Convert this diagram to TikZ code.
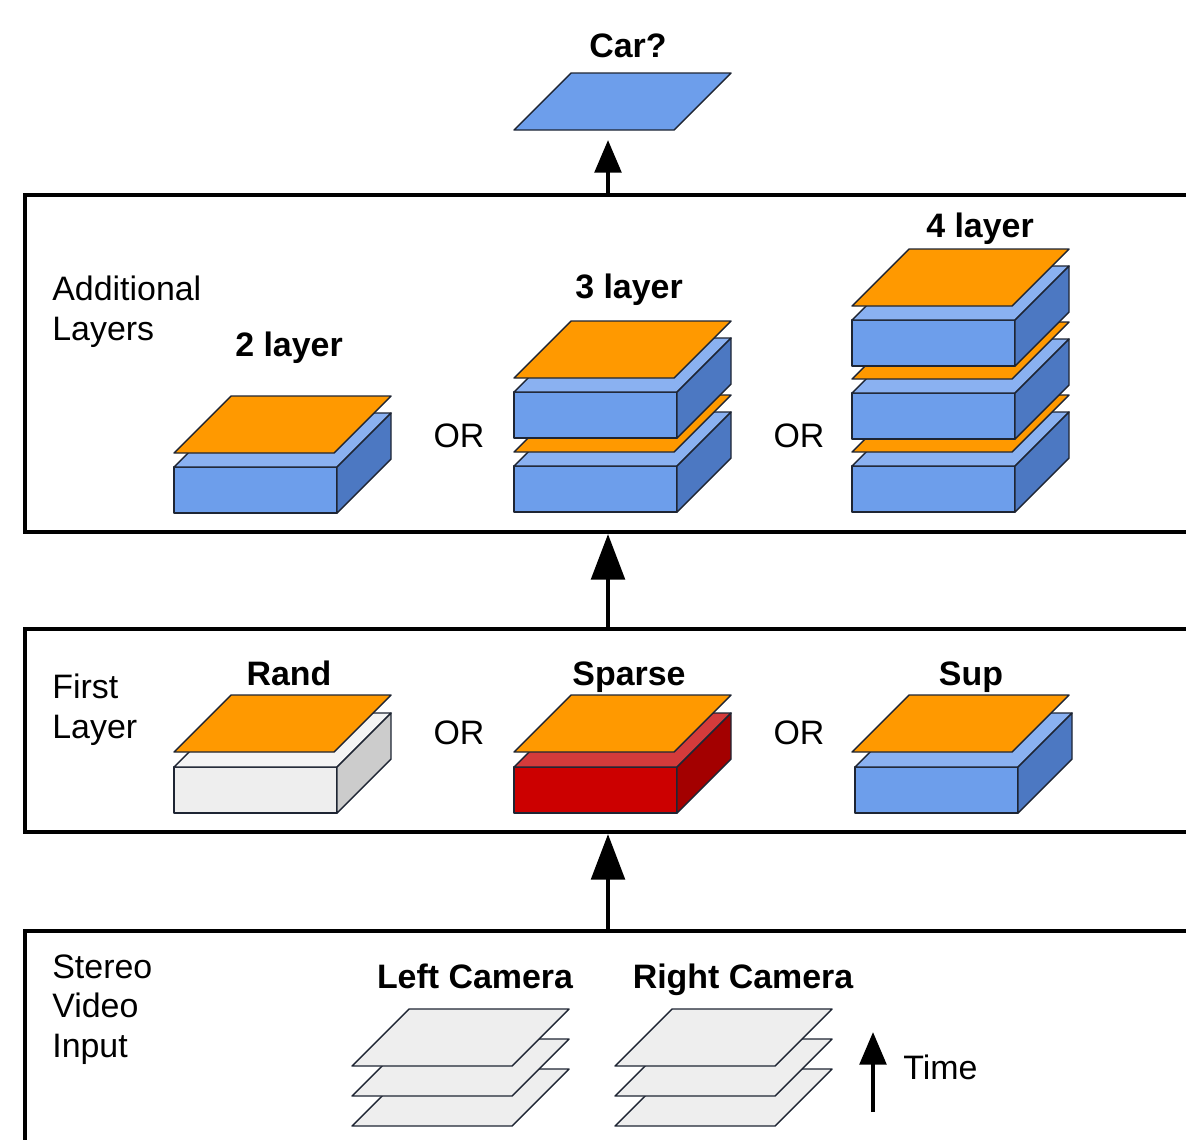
\documentclass[tikz,border=0pt]{standalone}
\usepackage{fontspec}
\setmainfont{Liberation Sans}
\usepackage{xcolor}
\usetikzlibrary{arrows.meta}

\definecolor{sheetorange}{HTML}{FF9900}
\definecolor{bluefront}{HTML}{6D9EEB}
\definecolor{bluetop}{HTML}{8AB1F1}
\definecolor{blueside}{HTML}{4C78C2}
\definecolor{redfront}{HTML}{CC0000}
\definecolor{redtop}{HTML}{D43B3B}
\definecolor{redside}{HTML}{A30000}
\definecolor{grayfront}{HTML}{EEEEEE}
\definecolor{graytop}{HTML}{F4F4F4}
\definecolor{grayside}{HTML}{CCCCCC}
\definecolor{edgeline}{HTML}{1E2533}

\newcommand{\layerblock}[5]{%
  \filldraw[edge, fill=#3] (#1,#2) rectangle ({#1+163},{#2-46});
  \filldraw[edge, fill=#4] (#1,{#2-46}) -- ({#1+163},{#2-46}) -- ({#1+217},{#2-100}) -- ({#1+54},{#2-100}) -- cycle;
  \filldraw[edge, fill=#5] ({#1+163},#2) -- ({#1+217},{#2-54}) -- ({#1+217},{#2-100}) -- ({#1+163},{#2-46}) -- cycle;
}
\newcommand{\layersheet}[3]{%
  \filldraw[edge, fill=#3] (#1,#2) -- ({#1+160},#2) -- ({#1+217},{#2-57}) -- ({#1+57},{#2-57}) -- cycle;
}

\begin{document}
\begin{tikzpicture}[
      x=0.02cm, y=-0.02cm,
      edge/.style={draw=edgeline, line width=0.8pt, line join=round},
      panel/.style={draw, line width=2.3pt, minimum width=23.32cm, inner sep=0pt},
      lbl/.style={font=\fontsize{19.3}{22.7}\selectfont, inner sep=0pt},
      head/.style={font=\fontsize{19.3}{22.7}\selectfont\bfseries, inner sep=0pt},
      bigarrow/.style={-{Triangle[length=26pt, width=19pt]}, line width=2.6pt},
      smallarrow/.style={-{Triangle[length=18.5pt, width=15pt]}, line width=2.4pt}
    ]
    \useasboundingbox (0,0) rectangle (1186,1139);
    \clip (0,0) rectangle (1186,1139);

    \node[panel, minimum height=6.74cm] (addbox) at (608,363.5) {};
    \node[panel, minimum height=4.06cm] (firstbox) at (608,730.5) {};
    \node[panel, minimum height=4.38cm] (inbox) at (608,1040.5) {};

    % output
    \layersheet{514}{130}{bluefront}
    \node[head, anchor=base] (carlbl) at (628,57) {Car?};
    \coordinate (carbase) at (608,140);

    % additional layers
    \node[lbl, anchor=north west, align=left] (addlbl) at (52,276) {Additional\\Layers};
    \node[head, anchor=base] (twolbl) at (289,356) {2 layer};
    \node[head, anchor=base] (threelbl) at (629,298) {3 layer};
    \node[head, anchor=base] (fourlbl) at (980,237) {4 layer};
    \node[lbl, anchor=base] (orA) at (459,447) {OR};
    \node[lbl, anchor=base] (orB) at (799,447) {OR};

    \layerblock{174}{513}{bluefront}{bluetop}{blueside}
    \layersheet{174}{453}{sheetorange}
    \foreach \k in {0,1} {
      \layerblock{514}{512-74*\k}{bluefront}{bluetop}{blueside}
      \layersheet{514}{452-74*\k}{sheetorange}
    }
    \foreach \k in {0,1,2} {
      \layerblock{852}{512-73*\k}{bluefront}{bluetop}{blueside}
      \layersheet{852}{452-73*\k}{sheetorange}
    }

    % first layer
    \node[lbl, anchor=north west, align=left] (firstlbl) at (52,674) {First\\Layer};
    \node[head, anchor=base] (randlbl) at (289,685) {Rand};
    \node[head, anchor=base] (sparselbl) at (629,685) {Sparse};
    \node[head, anchor=base] (suplbl) at (971,685) {Sup};
    \node[lbl, anchor=base] (orC) at (459,744) {OR};
    \node[lbl, anchor=base] (orD) at (799,744) {OR};

    \layerblock{174}{813}{grayfront}{graytop}{grayside}
    \layersheet{174}{752}{sheetorange}
    \layerblock{514}{813}{redfront}{redtop}{redside}
    \layersheet{514}{752}{sheetorange}
    \layerblock{855}{813}{bluefront}{bluetop}{blueside}
    \layersheet{852}{752}{sheetorange}

    % stereo input
    \node[lbl, anchor=north west, align=left] (inlbl) at (52,954) {Stereo\\Video\\Input};
    \node[head, anchor=base] (leftlbl) at (475,988) {Left Camera};
    \node[head, anchor=base] (rightlbl) at (743,988) {Right Camera};
    \foreach \k in {2,1,0} {
      \layersheet{352}{1066+30*\k}{grayfront}
      \layersheet{615}{1066+30*\k}{grayfront}
    }
    \coordinate (timefoot) at (873,1112);
    \coordinate (timetip) at (873,1032);
    \node[lbl, anchor=base west] (timelbl) at (903,1079) {Time};

    \draw[smallarrow] (addbox.north) -- (carbase);
    \draw[bigarrow] (firstbox.north) -- (addbox.south);
    \draw[bigarrow] (inbox.north) -- (firstbox.south);
    \draw[smallarrow] (timefoot) -- (timetip);
  \end{tikzpicture}
\end{document}
